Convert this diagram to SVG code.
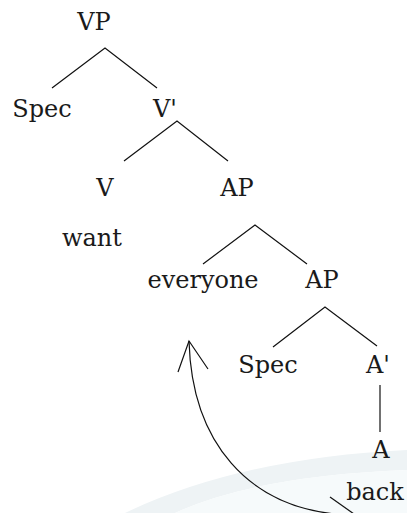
<svg xmlns="http://www.w3.org/2000/svg" width="407" height="513" viewBox="0 0 407 513">
<style>
text{font-family:"DejaVu Serif","Liberation Serif",serif;font-size:24px;fill:#1a1a1a;text-anchor:middle}
.e{stroke:#111;stroke-width:1.2;fill:none}
</style>
<rect width="407" height="513" fill="#fff"/>
<g id="watermark">
<path d="M125 513 Q240 458 407 450 L407 470 Q255 476 175 513 Z" fill="#eef3f5"/>
<path d="M175 513 Q255 476 407 470 L407 513 Z" fill="#f6fafb"/>
</g>
<g id="connectors">
<path class="e" d="M52 88 L105 48 L157 88"/>
<path class="e" d="M124 161 L177 121 L228 161"/>
<path class="e" d="M203 264 L255 225 L307 264"/>
<path class="e" d="M273 347 L325 307 L377 346"/>
<path class="e" d="M380 385 L380 432"/>
<path class="e" d="M189 341 C192 445 250 505 335 514"/>
<path class="e" d="M178 372 L189 341 L208 369"/>
<path class="e" d="M330 497 L354 514"/>
</g>
<g id="VP"><text x="94" y="30">VP</text></g>
<g id="Spec1"><text x="42" y="117">Spec</text></g>
<g id="Vbar"><text x="165" y="117">V'</text></g>
<g id="V"><text x="105" y="196">V</text></g>
<g id="want"><text x="92" y="246">want</text></g>
<g id="AP1"><text x="237" y="196">AP</text></g>
<g id="everyone"><text x="203" y="288">everyone</text></g>
<g id="AP2"><text x="322" y="288">AP</text></g>
<g id="Spec2"><text x="268" y="373">Spec</text></g>
<g id="Abar"><text x="378" y="373">A'</text></g>
<g id="A"><text x="381" y="458">A</text></g>
<g id="back"><text x="375" y="500">back</text></g>
</svg>
